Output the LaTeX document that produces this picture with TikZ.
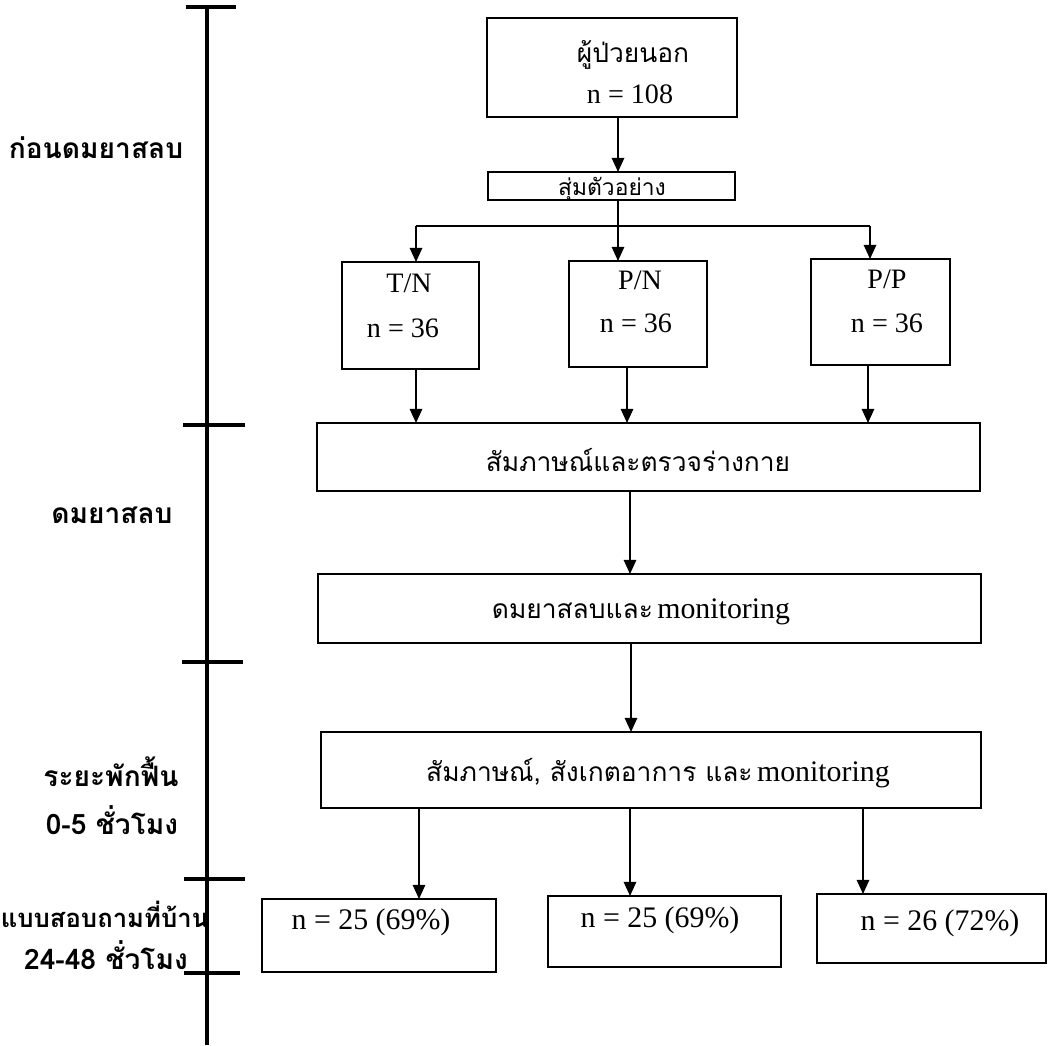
\documentclass[tikz,border=0pt]{standalone}
\usepackage{fontspec}
\setmainfont{Liberation Serif}
\newfontfamily\thai[Script=Thai]{Loma}
\usetikzlibrary{arrows.meta,calc}
\begin{document}
\begin{tikzpicture}[x=0.02cm,y=-0.02cm,
  box/.style={draw,line width=1.6pt,inner sep=0pt,outer sep=0pt},
  arr/.style={line width=1.1pt,-{Triangle[width=7pt,length=8pt]}},
  ln/.style={line width=1.1pt},
  tl/.style={line width=2.2pt},
  lbl/.style={font=\thai\bfseries\fontsize{16}{18}\selectfont,inner sep=0pt,text height=10pt,text depth=2pt},
  th/.style={font=\thai\fontsize{15}{18}\selectfont,inner sep=0pt},
  lt/.style={font=\fontsize{16}{18}\selectfont,inner sep=0pt}]
\useasboundingbox (0,0) rectangle (1051,1045);

% timeline
\coordinate (tA) at (207,7);
\coordinate (tZ) at (207,1045);
\draw[tl] (tA) -- (tZ);
\coordinate (k0a) at (186,7);   \coordinate (k0b) at (236,7);
\coordinate (k1a) at (183,425); \coordinate (k1b) at (245,425);
\coordinate (k2a) at (182,662); \coordinate (k2b) at (243,662);
\coordinate (k3a) at (184,879); \coordinate (k3b) at (245,879);
\coordinate (k4a) at (184,973); \coordinate (k4b) at (240,973);
\draw[tl] (k0a) -- (k0b);
\draw[tl] (k1a) -- (k1b);
\draw[tl] (k2a) -- (k2b);
\draw[tl] (k3a) -- (k3b);
\draw[tl] (k4a) -- (k4b);

% left labels
\node[lbl] (L1) at (96,151) {ก่อนดมยาสลบ};
\node[lbl] (L2) at (112,516) {ดมยาสลบ};
\node[lbl] (L3a) at (111,779) {ระยะพักฟื้น};
\node[lbl] (L3b) at (112,827) {0-5 ชั่วโมง};
\node[lbl,font=\thai\bfseries\fontsize{14.6}{17}\selectfont] (L4a) at (105,920) {แบบสอบถามที่บ้าน};
\node[lbl] (L4b) at (106,962) {24-48 ชั่วโมง};

% boxes
\node[box,minimum width=5cm,minimum height=1.98cm] (top) at (612,67.5) {};
\node[box,minimum width=4.94cm,minimum height=0.56cm] (rand) at (611.5,186) {};
\node[box,minimum width=2.74cm,minimum height=2.14cm] (TN) at (410.5,315.5) {};
\node[box,minimum width=2.76cm,minimum height=2.12cm] (PN) at (638,314) {};
\node[box,minimum width=2.78cm,minimum height=2.12cm] (PP) at (880.5,312) {};
\node[box,minimum width=13.26cm,minimum height=1.36cm] (B1) at (648.5,457) {};
\node[box,minimum width=13.26cm,minimum height=1.38cm] (B2) at (649.5,608.5) {};
\node[box,minimum width=13.2cm,minimum height=1.52cm] (B3) at (651,770) {};
\node[box,minimum width=4.68cm,minimum height=1.46cm] (R1) at (379,935.5) {};
\node[box,minimum width=4.66cm,minimum height=1.42cm] (R2) at (664.5,931.5) {};
\node[box,minimum width=4.58cm,minimum height=1.38cm] (R3) at (931.5,928.5) {};

% box texts
\node[th] (x1) at (633,55) {ผู้ป่วยนอก};
\node[lt] (x2) at (630,94) {n = 108};
\node[th,font=\thai\fontsize{13}{15}\selectfont] (x3) at (612,189) {สุ่มตัวอย่าง};
\node[lt] (x4) at (409,283) {T/N};
\node[lt] (x5) at (403,328) {n = 36};
\node[lt] (x6) at (640,280) {P/N};
\node[lt] (x7) at (636,323) {n = 36};
\node[lt] (x8) at (887,279) {P/P};
\node[lt] (x9) at (887,323) {n = 36};
\node[th] (x10) at (638,460) {สัมภาษณ์และตรวจร่างกาย};
\node (x11) at (641,612) {{\thai\fontsize{15}{18}\selectfont ดมยาสลบและ} {\fontsize{17}{18}\selectfont monitoring}};
\node (x12) at (658,773) {{\thai\fontsize{15}{18}\selectfont สัมภาษณ์, สังเกตอาการ และ} {\fontsize{17}{18}\selectfont monitoring}};
\node[lt,font=\fontsize{17}{18}\selectfont] (x13) at (371,922) {n = 25 (69\%)};
\node[lt,font=\fontsize{17}{18}\selectfont] (x14) at (660,920) {n = 25 (69\%)};
\node[lt,font=\fontsize{17}{18}\selectfont] (x15) at (940,923) {n = 26 (72\%)};

% connectors
\draw[arr] ($(top.south)+(6,0)$) -- ($(rand.north)+(6.5,0)$);
\coordinate (jm) at (618,226);
\coordinate (jl) at (416,226);
\coordinate (jr) at (870,226);
\draw[ln] ($(rand.south)+(6.5,0)$) -- (jm);
\draw[ln] (jl) -- (jr);
\draw[arr] (jl) -- (jl |- TN.north);
\draw[arr] (jm) -- (jm |- PN.north);
\draw[arr] (jr) -- (jr |- PP.north);
\draw[arr] (TN.south -| jl) -- (B1.north -| jl);
\draw[arr] ($(PN.south)+(-11,0)$) -- ($(B1.north)+(-21.5,0)$);
\draw[arr] ($(PP.south)+(-12.5,0)$) -- ($(B1.north)+(219.5,0)$);
\draw[arr] ($(B1.south)+(-18.5,0)$) -- ($(B2.north)+(-19.5,0)$);
\draw[arr] ($(B2.south)+(-18.5,0)$) -- ($(B3.north)+(-20,0)$);
\draw[arr] ($(B3.south)+(-232,0)$) -- ($(R1.north)+(40,0)$);
\draw[arr] ($(B3.south)+(-21,0)$) -- ($(R2.north)+(-34.5,0)$);
\draw[arr] ($(B3.south)+(212,0)$) -- ($(R3.north)+(-68.5,0)$);
\end{tikzpicture}
\end{document}
